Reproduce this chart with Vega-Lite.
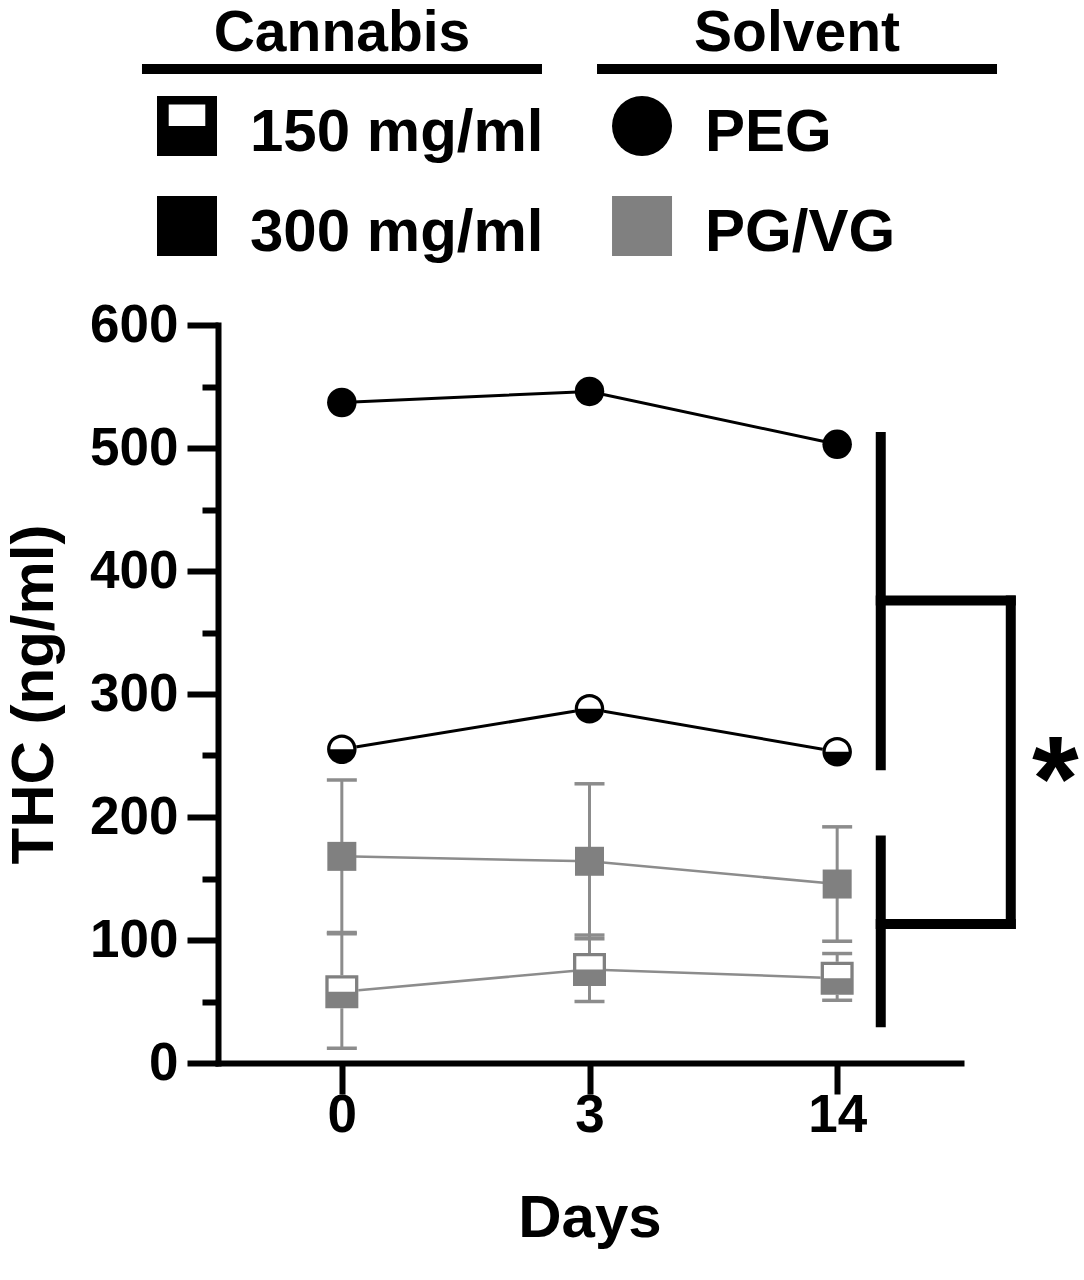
{
  "$schema": "https://vega.github.io/schema/vega-lite/v6.json",
  "width": 743,
  "height": 738,
  "autosize": {"type": "none"},
  "padding": {"left": 218, "top": 325, "right": 123, "bottom": 217},
  "background": "white",
  "config": {
    "view": {"stroke": null},
    "font": "Liberation Sans",
    "axis": {
      "labelFont": "Liberation Sans",
      "labelFontWeight": "bold",
      "labelFontSize": 53,
      "labelColor": "black",
      "titleFont": "Liberation Sans",
      "titleFontWeight": "bold",
      "titleFontSize": 60,
      "titleColor": "black",
      "domainColor": "black",
      "domainWidth": 6,
      "domainCap": "square",
      "tickColor": "black",
      "tickWidth": 6,
      "grid": false
    }
  },
  "datasets": {
    "thc": [
      {"day": 0, "solvent": "PEG", "conc": "300 mg/ml", "mean": 537},
      {"day": 3, "solvent": "PEG", "conc": "300 mg/ml", "mean": 546},
      {"day": 14, "solvent": "PEG", "conc": "300 mg/ml", "mean": 503},
      {"day": 0, "solvent": "PEG", "conc": "150 mg/ml", "mean": 255},
      {"day": 3, "solvent": "PEG", "conc": "150 mg/ml", "mean": 288},
      {"day": 14, "solvent": "PEG", "conc": "150 mg/ml", "mean": 253},
      {"day": 0, "solvent": "PG/VG", "conc": "300 mg/ml", "mean": 168, "lo": 106, "hi": 230},
      {"day": 3, "solvent": "PG/VG", "conc": "300 mg/ml", "mean": 164, "lo": 101, "hi": 227},
      {"day": 14, "solvent": "PG/VG", "conc": "300 mg/ml", "mean": 145.5, "lo": 99, "hi": 192},
      {"day": 0, "solvent": "PG/VG", "conc": "150 mg/ml", "mean": 58, "lo": 12, "hi": 105},
      {"day": 3, "solvent": "PG/VG", "conc": "150 mg/ml", "mean": 76, "lo": 50, "hi": 104},
      {"day": 14, "solvent": "PG/VG", "conc": "150 mg/ml", "mean": 69, "lo": 51, "hi": 89}
    ],
    "bracket": [
      {"group": "PEG", "top": 513, "bottom": 238, "mid": 376},
      {"group": "PG/VG", "top": 185, "bottom": 29, "mid": 113}
    ],
    "legendHeads": [
      {"group": "Cannabis", "level": "0"},
      {"group": "Solvent", "level": "0"}
    ],
    "legendItems": [
      {"group": "Cannabis", "label": "150 mg/ml", "level": "1"},
      {"group": "Cannabis", "label": "300 mg/ml", "level": "2"},
      {"group": "Solvent", "label": "PEG", "level": "1"},
      {"group": "Solvent", "label": "PG/VG", "level": "2"}
    ]
  },
  "layer": [
    {
      "data": {"name": "thc"},
      "encoding": {
        "x": {
          "field": "day",
          "type": "ordinal",
          "scale": {"type": "point", "padding": 0.5},
          "axis": {
            "values": [0, 3, 14],
            "labelAngle": 0,
            "tickSize": 31,
            "labelPadding": -5,
            "title": "Days",
            "titlePadding": 47
          }
        },
        "y": {
          "field": "mean",
          "type": "quantitative",
          "title": "THC (ng/ml)",
          "scale": {"domain": [0, 600], "nice": false},
          "axis": {
            "values": [0, 50, 100, 150, 200, 250, 300, 350, 400, 450, 500, 550, 600],
            "labelExpr": "datum.value % 100 === 0 ? datum.label : ''",
            "tickSize": {"condition": {"test": "datum.value % 100 === 0", "value": 31}, "value": 16},
            "labelPadding": 9,
            "title": "THC (ng/ml)",
            "titlePadding": 24
          }
        }
      },
      "layer": [
        {
          "transform": [{"filter": "datum.solvent == 'PG/VG'"}],
          "mark": {"type": "rule", "color": "#8c8c8c", "strokeWidth": 3},
          "encoding": {
            "y": {"field": "lo", "type": "quantitative", "title": "THC (ng/ml)"},
            "y2": {"field": "hi"}
          }
        },
        {
          "transform": [{"filter": "datum.solvent == 'PG/VG'"}],
          "mark": {"type": "tick", "orient": "horizontal", "size": 30, "thickness": 3.5, "color": "#8c8c8c", "opacity": 1},
          "encoding": {"y": {"field": "lo", "type": "quantitative", "title": "THC (ng/ml)"}}
        },
        {
          "transform": [{"filter": "datum.solvent == 'PG/VG'"}],
          "mark": {"type": "tick", "orient": "horizontal", "size": 30, "thickness": 3.5, "color": "#8c8c8c", "opacity": 1},
          "encoding": {"y": {"field": "hi", "type": "quantitative", "title": "THC (ng/ml)"}}
        },
        {
          "transform": [{"filter": "datum.solvent == 'PEG'"}],
          "mark": {"type": "line", "color": "black", "strokeWidth": 3},
          "encoding": {"detail": {"field": "conc"}}
        },
        {
          "transform": [{"filter": "datum.solvent == 'PG/VG'"}],
          "mark": {"type": "line", "color": "#8c8c8c", "strokeWidth": 2.5},
          "encoding": {"detail": {"field": "conc"}}
        },
        {
          "transform": [{"filter": "datum.solvent == 'PEG' && datum.conc == '150 mg/ml'"}],
          "mark": {"type": "point", "shape": "circle", "filled": true, "color": "white", "opacity": 1, "size": 870}
        },
        {
          "transform": [{"filter": "datum.solvent == 'PG/VG' && datum.conc == '150 mg/ml'"}],
          "mark": {"type": "point", "shape": "square", "filled": true, "color": "white", "opacity": 1, "size": 1089}
        },
        {
          "transform": [{"filter": "datum.solvent == 'PEG' && datum.conc == '300 mg/ml'"}],
          "mark": {"type": "point", "shape": "circle", "filled": true, "color": "black", "opacity": 1, "size": 870}
        },
        {
          "transform": [{"filter": "datum.solvent == 'PEG' && datum.conc == '150 mg/ml'"}],
          "mark": {
            "type": "point",
            "shape": "M-1,0A1,1,0,0,0,1,0A1,1,0,0,0,-1,0ZM-0.78,0A0.78,0.78,0,0,1,0.78,0Z",
            "filled": true, "color": "black", "opacity": 1, "size": 870
          }
        },
        {
          "transform": [{"filter": "datum.solvent == 'PG/VG' && datum.conc == '300 mg/ml'"}],
          "mark": {"type": "point", "shape": "square", "filled": true, "color": "#808080", "opacity": 1, "size": 841}
        },
        {
          "transform": [{"filter": "datum.solvent == 'PG/VG' && datum.conc == '150 mg/ml'"}],
          "mark": {
            "type": "point",
            "shape": "M-1,-1L1,-1L1,1L-1,1ZM-0.8,-0.8L-0.8,0L0.8,0L0.8,-0.8Z",
            "filled": true, "color": "#808080", "opacity": 1, "size": 1089
          }
        }
      ]
    },
    {
      "data": {"name": "bracket"},
      "layer": [
        {
          "mark": {"type": "rule", "color": "black", "strokeWidth": 10},
          "encoding": {
            "x": {"datum": 0.892, "type": "quantitative", "scale": {"domain": [0, 1]}, "axis": null},
            "y": {"field": "top", "type": "quantitative", "scale": {"domain": [0, 600], "nice": false}, "axis": null},
            "y2": {"field": "bottom"}
          }
        },
        {
          "mark": {"type": "rule", "color": "black", "strokeWidth": 10, "strokeCap": "square"},
          "encoding": {
            "x": {"datum": 0.892, "type": "quantitative", "scale": {"domain": [0, 1]}, "axis": null},
            "x2": {"datum": 1.067},
            "y": {"field": "mid", "type": "quantitative", "scale": {"domain": [0, 600], "nice": false}, "axis": null}
          }
        },
        {
          "mark": {"type": "rule", "color": "black", "strokeWidth": 10, "strokeCap": "square"},
          "encoding": {
            "x": {"datum": 1.067, "type": "quantitative", "scale": {"domain": [0, 1]}, "axis": null},
            "y": {"aggregate": "max", "field": "mid", "type": "quantitative", "scale": {"domain": [0, 600], "nice": false}, "axis": null},
            "y2": {"aggregate": "min", "field": "mid"}
          }
        },
        {
          "mark": {"type": "text", "font": "Liberation Sans", "fontSize": 120, "fontWeight": "bold", "color": "black", "baseline": "alphabetic", "dy": 58},
          "encoding": {
            "x": {"datum": 1.127, "type": "quantitative", "scale": {"domain": [0, 1]}, "axis": null},
            "y": {"aggregate": "mean", "field": "mid", "type": "quantitative", "scale": {"domain": [0, 600], "nice": false}, "axis": null},
            "text": {"value": "*"}
          }
        }
      ]
    },
    {
      "layer": [
        {
          "data": {"name": "legendHeads"},
          "mark": {"type": "text", "font": "Liberation Sans", "fontSize": 57, "fontWeight": "bold", "color": "black", "baseline": "alphabetic", "dy": 25},
          "encoding": {
            "x": {"field": "group", "type": "nominal", "scale": {"type": "band", "domain": ["Cannabis", "Solvent"], "range": [-76, 779], "paddingInner": 0.121, "paddingOuter": 0}, "axis": null},
            "y": {"field": "level", "type": "ordinal", "scale": {"type": "point", "domain": ["0", "1", "2"], "range": [-299, -99], "padding": 0}, "axis": null},
            "text": {"field": "group"}
          }
        },
        {
          "data": {"name": "legendHeads"},
          "mark": {"type": "tick", "orient": "horizontal", "size": 400, "thickness": 10, "yOffset": 43, "color": "black", "opacity": 1},
          "encoding": {
            "x": {"field": "group", "type": "nominal", "axis": null},
            "y": {"field": "level", "type": "ordinal", "axis": null}
          }
        },
        {
          "data": {"name": "legendItems"},
          "mark": {"type": "point", "filled": true, "opacity": 1, "size": 3600, "xOffset": 45, "strokeWidth": 0},
          "encoding": {
            "x": {"field": "group", "type": "nominal", "bandPosition": 0, "axis": null},
            "y": {"field": "level", "type": "ordinal", "axis": null},
            "shape": {
              "field": "label",
              "type": "nominal",
              "scale": {
                "domain": ["150 mg/ml", "300 mg/ml", "PEG", "PG/VG"],
                "range": ["M-1,-1L1,-1L1,1L-1,1ZM-0.61,-0.72L-0.61,0L0.61,0L0.61,-0.72Z", "square", "circle", "square"]
              },
              "legend": null
            },
            "color": {
              "field": "label",
              "type": "nominal",
              "scale": {
                "domain": ["150 mg/ml", "300 mg/ml", "PEG", "PG/VG"],
                "range": ["black", "black", "black", "#808080"]
              },
              "legend": null
            }
          }
        },
        {
          "data": {"name": "legendItems"},
          "mark": {"type": "text", "align": "left", "font": "Liberation Sans", "fontSize": 60, "fontWeight": "bold", "color": "black", "baseline": "alphabetic", "dx": 108, "dy": 25},
          "encoding": {
            "x": {"field": "group", "type": "nominal", "bandPosition": 0, "axis": null},
            "y": {"field": "level", "type": "ordinal", "axis": null},
            "text": {"field": "label"}
          }
        }
      ]
    }
  ],
  "resolve": {"scale": {"x": "independent", "y": "independent", "color": "independent", "shape": "independent"}}
}
